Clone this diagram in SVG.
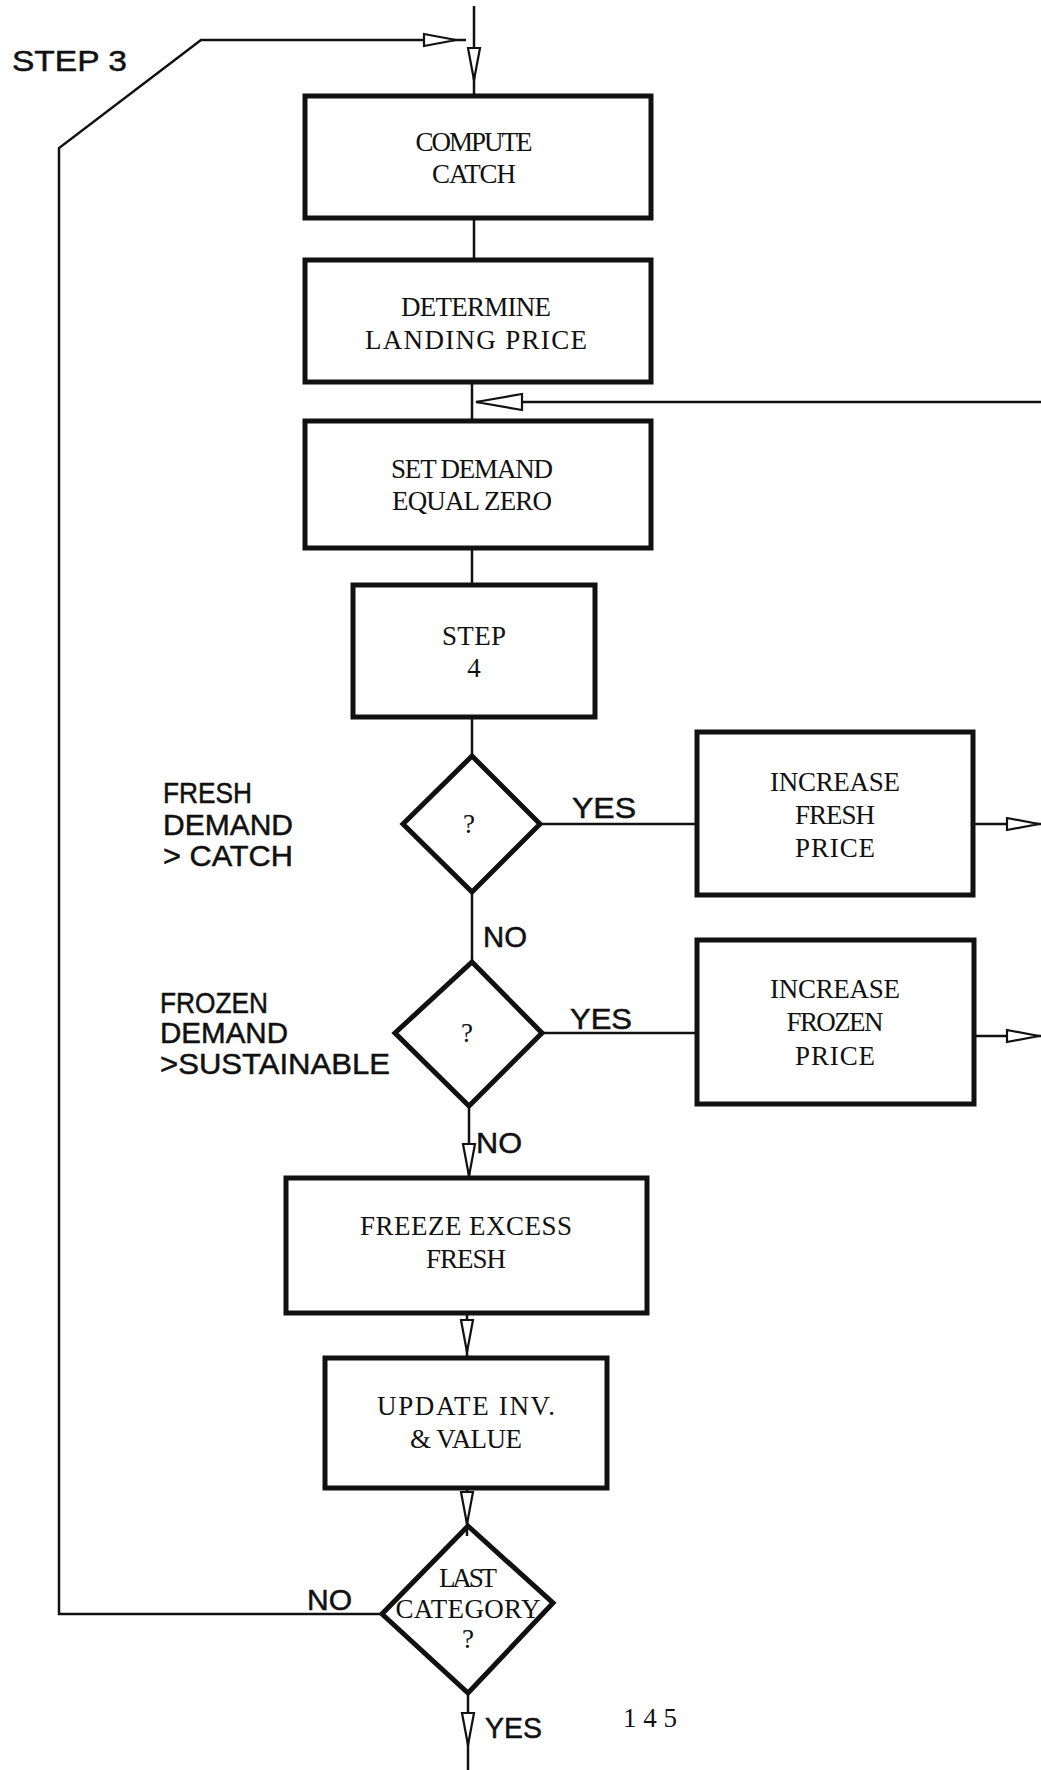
<svg xmlns="http://www.w3.org/2000/svg" width="1041" height="1770" viewBox="0 0 1041 1770">
<style>
.bx{fill:none;stroke:#111;stroke-width:5}
.dm{fill:none;stroke:#111;stroke-width:5;stroke-linejoin:miter}
.ln{fill:none;stroke:#111;stroke-width:2.5}
.ah{fill:#fff;stroke:#111;stroke-width:2.2;stroke-linejoin:miter}
.tw{font-family:"Liberation Serif","Times New Roman",serif;font-size:27px;fill:#111;text-anchor:middle}
.sl{font-family:"Liberation Sans",Arial,sans-serif;font-size:30px;fill:#111;stroke:#111;stroke-width:0.5}
</style>
<defs>
<path id="ah" d="M-6,-32 L6,-32 L0,0 Z"/>
</defs>
<rect width="1041" height="1770" fill="#fff"/>

<g id="connectors">
<line class="ln" x1="474" y1="6" x2="474" y2="96"/>
<use href="#ah" class="ah" transform="translate(474,80)"/>
<polyline class="ln" points="466,40 201,40 59,148 59,1614 382,1614"/>
<use href="#ah" class="ah" transform="translate(456,40) rotate(-90)"/>
<line class="ln" x1="474" y1="218" x2="474" y2="260"/>
<line class="ln" x1="472" y1="382" x2="472" y2="421"/>
<line class="ln" x1="1041" y1="402" x2="476" y2="402"/>
<path class="ah" d="M476,402 L522,394 L522,410 Z"/>
<line class="ln" x1="472" y1="548" x2="472" y2="585"/>
<line class="ln" x1="472" y1="717" x2="472" y2="756"/>
<line class="ln" x1="540" y1="824" x2="697" y2="824"/>
<line class="ln" x1="973" y1="824" x2="1041" y2="824"/>
<use href="#ah" class="ah" transform="translate(1039,824) rotate(-90)"/>
<line class="ln" x1="472" y1="892" x2="472" y2="962"/>
<line class="ln" x1="542" y1="1033" x2="697" y2="1033"/>
<line class="ln" x1="974" y1="1036" x2="1041" y2="1036"/>
<use href="#ah" class="ah" transform="translate(1039,1036) rotate(-90)"/>
<line class="ln" x1="469" y1="1106" x2="469" y2="1178"/>
<use href="#ah" class="ah" transform="translate(469,1176)"/>
<line class="ln" x1="467" y1="1313" x2="467" y2="1358"/>
<use href="#ah" class="ah" transform="translate(467,1352)"/>
<line class="ln" x1="467" y1="1488" x2="467" y2="1536"/>
<use href="#ah" class="ah" transform="translate(467,1524)"/>
<line class="ln" x1="468" y1="1693" x2="468" y2="1770"/>
<use href="#ah" class="ah" transform="translate(468,1745)"/>
</g>

<g id="labels">
<text class="sl" x="12" y="71" font-size="33" textLength="115" lengthAdjust="spacingAndGlyphs">STEP 3</text>
<text class="sl" x="163" y="803" textLength="89" lengthAdjust="spacingAndGlyphs">FRESH</text>
<text class="sl" x="163" y="835" textLength="130" lengthAdjust="spacingAndGlyphs">DEMAND</text>
<text class="sl" x="163" y="866" textLength="130" lengthAdjust="spacingAndGlyphs">&gt; CATCH</text>
<text class="sl" x="572" y="818" font-size="32" textLength="64" lengthAdjust="spacingAndGlyphs">YES</text>
<text class="sl" x="483" y="947" font-size="32" textLength="44" lengthAdjust="spacingAndGlyphs">NO</text>
<text class="sl" x="160" y="1013" textLength="108" lengthAdjust="spacingAndGlyphs">FROZEN</text>
<text class="sl" x="160" y="1043" textLength="128" lengthAdjust="spacingAndGlyphs">DEMAND</text>
<text class="sl" x="160" y="1074" textLength="230" lengthAdjust="spacingAndGlyphs">&gt;SUSTAINABLE</text>
<text class="sl" x="570" y="1029" font-size="32" textLength="62" lengthAdjust="spacingAndGlyphs">YES</text>
<text class="sl" x="476" y="1153" font-size="32" textLength="46" lengthAdjust="spacingAndGlyphs">NO</text>
<text class="sl" x="307" y="1610" font-size="32" textLength="45" lengthAdjust="spacingAndGlyphs">NO</text>
<text class="sl" x="485" y="1738" font-size="34" textLength="57" lengthAdjust="spacingAndGlyphs">YES</text>
<text class="tw" x="650" y="1727" font-size="30" textLength="54">145</text>
</g>

<g id="compute-catch">
<rect class="bx" x="305" y="96" width="346" height="122"/>
<text class="tw" x="474" y="151" textLength="117">COMPUTE</text>
<text class="tw" x="474" y="183" textLength="84">CATCH</text>
</g>
<g id="determine-landing-price">
<rect class="bx" x="305" y="260" width="346" height="122"/>
<text class="tw" x="476" y="316" textLength="150">DETERMINE</text>
<text class="tw" x="476" y="349" textLength="222">LANDING PRICE</text>
</g>
<g id="set-demand">
<rect class="bx" x="305" y="421" width="346" height="127"/>
<text class="tw" x="472" y="478" textLength="162">SET DEMAND</text>
<text class="tw" x="472" y="510" textLength="160">EQUAL ZERO</text>
</g>
<g id="step4">
<rect class="bx" x="353" y="585" width="242" height="132"/>
<text class="tw" x="474" y="645" textLength="64">STEP</text>
<text class="tw" x="474" y="677">4</text>
</g>
<g id="fresh-decision">
<polygon class="dm" points="472,756 540,824 472,892 403,824"/>
<text class="tw" x="469" y="833">?</text>
</g>
<g id="increase-fresh-price">
<rect class="bx" x="697" y="732" width="276" height="163"/>
<text class="tw" x="835" y="791" textLength="130">INCREASE</text>
<text class="tw" x="835" y="824" textLength="80">FRESH</text>
<text class="tw" x="835" y="857" textLength="80">PRICE</text>
</g>
<g id="frozen-decision">
<polygon class="dm" points="472,962 542,1033 469,1106 395,1033"/>
<text class="tw" x="467" y="1042">?</text>
</g>
<g id="increase-frozen-price">
<rect class="bx" x="697" y="940" width="277" height="164"/>
<text class="tw" x="835" y="998" textLength="130">INCREASE</text>
<text class="tw" x="835" y="1031" textLength="97">FROZEN</text>
<text class="tw" x="835" y="1065" textLength="80">PRICE</text>
</g>
<g id="freeze-excess">
<rect class="bx" x="286" y="1178" width="361" height="135"/>
<text class="tw" x="466" y="1235" textLength="212">FREEZE EXCESS</text>
<text class="tw" x="466" y="1268" textLength="80">FRESH</text>
</g>
<g id="update-inv">
<rect class="bx" x="325" y="1358" width="282" height="130"/>
<text class="tw" x="466" y="1415" textLength="178">UPDATE INV.</text>
<text class="tw" x="466" y="1448" textLength="112">&amp; VALUE</text>
</g>
<g id="last-category">
<polygon class="dm" points="468,1526 553,1603 468,1693 382,1614"/>
<text class="tw" x="468" y="1587" textLength="58">LAST</text>
<text class="tw" x="468" y="1618" textLength="145">CATEGORY</text>
<text class="tw" x="468" y="1648">?</text>
</g>
</svg>
